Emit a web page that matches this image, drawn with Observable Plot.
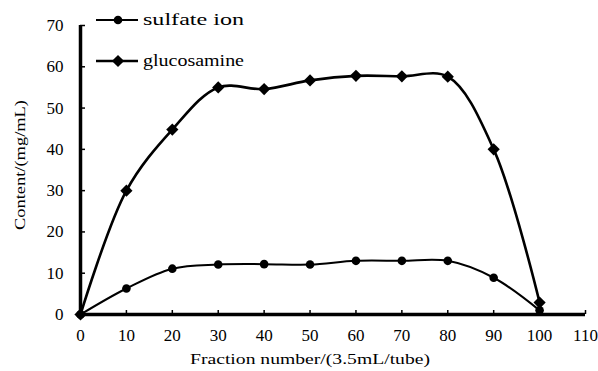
<!DOCTYPE html>
<html>
<head>
<meta charset="utf-8">
<script src="https://cdn.jsdelivr.net/npm/d3@7"></script>
<script src="https://cdn.jsdelivr.net/npm/@observablehq/plot@0.6"></script>
<style>
  html, body { margin: 0; padding: 0; background: #fff; }
  #chart { position: relative; width: 598px; height: 371px; }
  #chart svg text { font-family: "Liberation Serif", "DejaVu Serif", serif !important; font-weight: normal; }
</style>
</head>
<body>
<div id="chart"></div>
<script>
const fractions = [0, 10, 20, 30, 40, 50, 60, 70, 80, 90, 100];
const sulfateIon = [0, 6.3, 11.1, 12.1, 12.2, 12.1, 13.0, 13.0, 13.0, 8.9, 1.0];
const glucosamine = [0, 30, 44.8, 55, 54.6, 56.7, 57.8, 57.7, 57.6, 40, 2.9];
const xTicks = [0, 10, 20, 30, 40, 50, 60, 70, 80, 90, 100, 110];
const yTicks = [0, 10, 20, 30, 40, 50, 60, 70];
const seriesNames = ["sulfate ion", "glucosamine"];
const xLabel = "Fraction number/(3.5mL/tube)";
const yLabel = "Content/(mg/mL)";

const sulfateData = fractions.map((f, i) => ({x: f, y: sulfateIon[i]}));
const glucoData = fractions.map((f, i) => ({x: f, y: glucosamine[i]}));

const plot = Plot.plot({
  width: 598,
  height: 371,
  marginLeft: 80,
  marginRight: 13,
  marginTop: 25,
  marginBottom: 57,
  style: {background: "#fff", color: "#000", overflow: "visible"},
  x: {domain: [0, 110]},
  y: {domain: [0, 70]},
  marks: [
    Plot.axisX({ticks: xTicks, tickSize: -4, tickPadding: 18, strokeWidth: 1.5,
      fontSize: 17, label: null}),
    Plot.axisY({ticks: yTicks, tickSize: -5, tickPadding: 22, strokeWidth: 1.5,
      fontSize: 17, label: null}),
    Plot.ruleY([0], {x1: 0, x2: 110, strokeWidth: 3.5}),
    Plot.ruleX([0], {y1: 0, y2: 70, strokeWidth: 3.5}),
    Plot.line(glucoData, {x: "x", y: "y", curve: "catmull-rom", strokeWidth: 2.6, stroke: "#000"}),
    Plot.line(sulfateData, {x: "x", y: "y", curve: "catmull-rom", strokeWidth: 2, stroke: "#000"}),
    Plot.dot(glucoData, {x: "x", y: "y", symbol: "diamond2", r: 5.5, fill: "#000", stroke: "none"}),
    Plot.dot(sulfateData, {x: "x", y: "y", symbol: "circle", r: 4.3, fill: "#000", stroke: "none"})
  ]
});

document.getElementById("chart").appendChild(plot);

const svg = d3.select(plot);

// axis titles
svg.append("text")
  .attr("x", 310).attr("y", 364)
  .attr("text-anchor", "middle")
  .attr("font-size", 15)
  .attr("textLength", 240).attr("lengthAdjust", "spacingAndGlyphs")
  .attr("fill", "#000")
  .text(xLabel);
svg.append("text")
  .attr("transform", "translate(25,165) rotate(-90)")
  .attr("text-anchor", "middle")
  .attr("font-size", 15)
  .attr("textLength", 130).attr("lengthAdjust", "spacingAndGlyphs")
  .attr("fill", "#000")
  .text(yLabel);

// legend
const legend = svg.append("g");
const legendRows = [
  {name: seriesNames[0], y: 20, symbol: d3.symbolCircle, size: Math.PI * 4.3 * 4.3, sw: 2},
  {name: seriesNames[1], y: 61, symbol: d3.symbolDiamond2, size: Math.PI * 5.5 * 5.5, sw: 2.6}
];
legendRows.forEach(r => {
  legend.append("path").attr("d", `M96,${r.y}H138`)
    .attr("fill", "none").attr("stroke", "#000").attr("stroke-width", r.sw);
  legend.append("path").attr("d", d3.symbol(r.symbol, r.size)())
    .attr("transform", `translate(118,${r.y})`).attr("fill", "#000");
  legend.append("text").attr("x", 143).attr("y", r.y).attr("dy", "0.32em")
    .attr("text-anchor", "start")
    .attr("font-size", 16)
    .attr("textLength", 101).attr("lengthAdjust", "spacingAndGlyphs")
    .attr("fill", "#000")
    .text(r.name);
});
</script>
</body>
</html>
